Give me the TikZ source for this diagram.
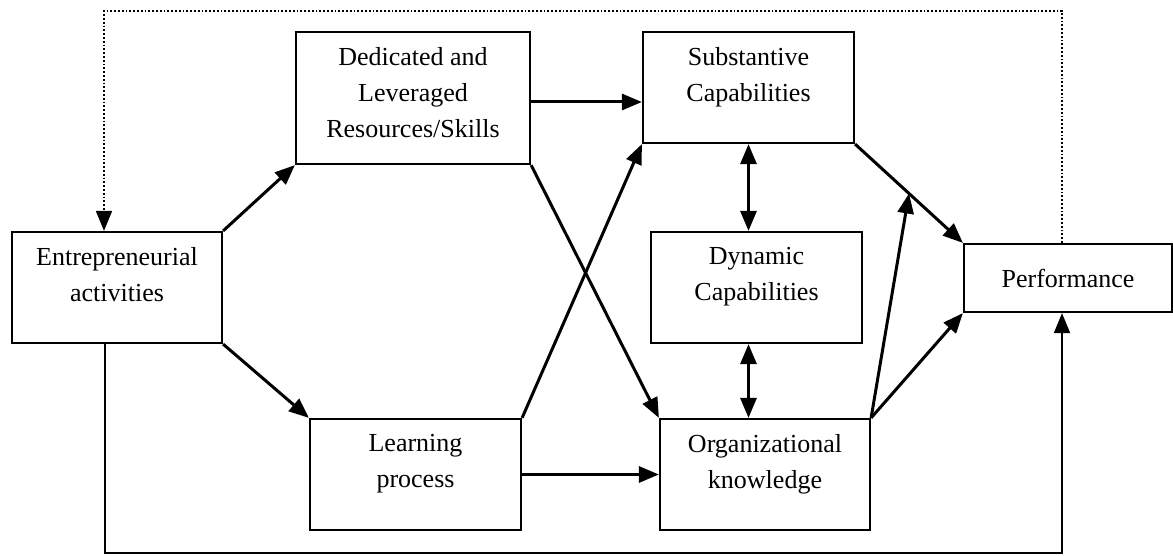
\documentclass[tikz,border=0pt]{standalone}
\usepackage{fontspec}
\setmainfont{Liberation Serif}
\usetikzlibrary{calc}
\usetikzlibrary{arrows.meta,positioning}

\tikzset{
  box/.style={draw, line width=2.2pt, inner sep=0pt, minimum width=211pt, minimum height=111pt},
  boxtext/.style={anchor=north, label distance=-16pt, align=center, inner sep=0pt,
    font=\fontsize{26}{36}\selectfont},
  arr/.style={line width=3pt, -{Triangle[length=20pt,width=16pt]}},
  dbl/.style={line width=3pt, {Triangle[length=20pt,width=16pt]}-{Triangle[length=20pt,width=16pt]}},
  fback/.style={line width=1.8pt, -{Triangle[length=20pt,width=16pt]}},
}

\begin{document}
\begin{tikzpicture}[x=1pt,y=-1pt]
        \useasboundingbox (0,0) rectangle (1173,556);
        %KOORDINAT
        \coordinate (fbtop) at (0,11);
        \coordinate (fbbot) at (0,553);
        %kotak
        \node[box, minimum width=210pt, label={[boxtext]north:Entrepreneurial\\activities}] (ent) at (117,287.5) {};
        \node[box, minimum width=234pt, minimum height=132pt, label={[boxtext]north:Dedicated and\\Leveraged\\Resources/Skills}] (ded) at (413,98) {};
        \node[box, label={[boxtext]north:Substantive\\Capabilities}] (sub) at (748.5,87.5) {};
        \node[box, label={[boxtext]north:Dynamic\\Capabilities}] (dyn) at (756.5,287.5) {};
        \node[box, label={[boxtext]north:Learning\\process}] (learn) at (415.5,474.5) {};
        \node[box, minimum width=210pt, label={[boxtext]north:Organizational\\knowledge}] (org) at (765,474.5) {};
        \node[box, minimum width=208pt, minimum height=68pt, font=\fontsize{26}{36}\selectfont] (perf) at (1068,278) {Performance};
        %panah
        \draw[arr] (ent.north east) -- (ded.south west);
        \draw[arr] (ent.south east) -- (learn.north west);
        \draw[arr] ([yshift=-4pt]ded.east) -- ([yshift=-4pt]ded.east -| sub.west);
        \draw[arr] (ded.south east) -- (org.north west);
        \draw[arr] (learn.north east) -- (sub.south west);
        \draw[arr] (learn.east) -- (learn.east -| org.west);
        \draw[dbl] (sub.south) -- (sub.south |- dyn.north);
        \draw[dbl] (sub.south |- dyn.south) -- (sub.south |- org.north);
        \draw[arr] (sub.south east) -- (perf.north west);
        \draw[arr] (org.north east) -- ($(sub.south east)!0.5!(perf.north west)$);
        \draw[arr] (org.north east) -- (perf.south west);
        %umpan balik
        \draw[fback, dotted] ([xshift=-6pt]perf.north) -- ([xshift=-6pt]perf.north |- fbtop) -| ([xshift=-13pt]ent.north);
        \draw[fback] ([xshift=-12pt]ent.south) -- ([xshift=-12pt]ent.south |- fbbot) -| ([xshift=-6pt]perf.south);
    \end{tikzpicture}
\end{document}
